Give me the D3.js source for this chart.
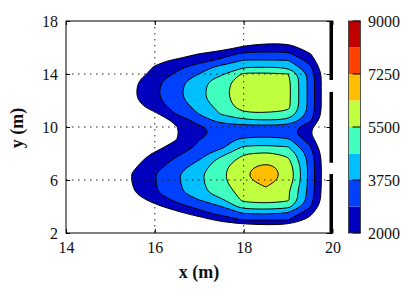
<!DOCTYPE html>
<html>
<head>
<meta charset="utf-8">
<script src="https://cdn.jsdelivr.net/npm/d3@7"></script>
<style>
  body { margin: 0; background: #fff; }
  svg text { font-family: "Liberation Serif", "DejaVu Serif", serif; fill: #111; }
</style>
</head>
<body>
<svg id="chart"></svg>
<script>
const w = 415;
const h = 298;

// sampled field: columns are x (m), rows are y (m)
const gridX = [15, 15.5, 16, 16.5, 17, 17.5, 18, 18.5, 19, 19.5, 20];
const gridY = [2, 2.5, 3, 3.5, 4, 4.5, 5, 5.5, 6, 6.5, 7, 7.5, 8, 8.5, 9, 9.5, 10,
               10.5, 11, 11.5, 12, 12.5, 13, 13.5, 14, 14.5, 15, 15.5, 16, 16.5, 17, 17.5, 18];
const field = [
  [0, 0, 0, 0, 0, 300, 500, 600, 550, 0, 0],
  [0, 0, 0, 200, 700, 1200, 1500, 1700, 1650, 890, 0],
  [0, 0, 300, 900, 1560, 2290, 2950, 2950, 2900, 1660, 0],
  [0, 400, 1000, 1740, 2505, 3220, 3800, 3900, 3700, 2290, 0],
  [300, 1000, 1750, 2530, 3190, 3755, 5050, 5150, 4950, 2945, 300],
  [800, 1515, 2325, 3090, 3760, 4480, 5700, 5850, 5650, 3260, 490],
  [1150, 1880, 2750, 3510, 4250, 5100, 5740, 5970, 5600, 3340, 530],
  [1230, 1980, 2800, 3580, 4380, 5215, 5950, 6400, 5800, 3400, 560],
  [1260, 2040, 2840, 3640, 4460, 5290, 6230, 6650, 6120, 3420, 570],
  [1250, 2030, 2830, 3630, 4440, 5290, 6280, 6700, 6150, 3420, 575],
  [1100, 1850, 2600, 3335, 4190, 5215, 6150, 6620, 6050, 3415, 570],
  [950, 1690, 2365, 3045, 3760, 5000, 5820, 6085, 5670, 3365, 545],
  [800, 1460, 2090, 2710, 3375, 4285, 5430, 5600, 5325, 3240, 475],
  [400, 1000, 1685, 2400, 3020, 3550, 4700, 4800, 4630, 2910, 285],
  [200, 700, 1300, 2020, 2880, 3400, 4015, 4085, 3960, 2510, 40],
  [100, 500, 1450, 1950, 2685, 3115, 3355, 3415, 3310, 2060, 0],
  [100, 500, 1550, 1990, 2750, 3260, 3415, 3420, 3390, 2290, 0],
  [0, 700, 1390, 2250, 3260, 4125, 4500, 4580, 4520, 3025, 335],
  [300, 1000, 1840, 2960, 3790, 4700, 5385, 5405, 5300, 3320, 490],
  [800, 1550, 2390, 3230, 4050, 4950, 5900, 5975, 5705, 3415, 540],
  [950, 1780, 2620, 3450, 4300, 5180, 5950, 6055, 5725, 3420, 540],
  [1010, 1850, 2700, 3540, 4380, 5260, 5975, 6135, 5740, 3420, 540],
  [1000, 1830, 2680, 3510, 4340, 5220, 5965, 6085, 5735, 3420, 540],
  [950, 1760, 2590, 3420, 4220, 5100, 5925, 6005, 5715, 3420, 540],
  [770, 1520, 2270, 3020, 3760, 4480, 5630, 5660, 5510, 3380, 520],
  [700, 1350, 2080, 2650, 3350, 4060, 4615, 4640, 4570, 3025, 335],
  [300, 960, 1750, 2200, 2580, 3115, 3835, 3845, 3805, 2575, 85],
  [0, 200, 880, 1450, 2050, 2450, 3105, 3110, 3080, 2065, 0],
  [0, 0, 300, 800, 1250, 1600, 2150, 2410, 2385, 1520, 0],
  [0, 0, 0, 400, 800, 1200, 1500, 1710, 1690, 940, 0],
  [0, 0, 0, 0, 300, 600, 900, 980, 960, 300, 0],
  [0, 0, 0, 0, 0, 0, 200, 255, 240, 0, 0],
  [0, 0, 0, 0, 0, 0, 0, 0, 0, 0, 0]
];

const levels = [2000, 2875, 3750, 4625, 5500, 6375, 7250, 8125, 9000];
const barTicks = [2000, 3750, 5500, 7250, 9000];
const xTicks = [14, 16, 18, 20];
const yTicks = [2, 6, 10, 14, 18];
const gridLinesX = [16, 18];
const gridLinesY = [6, 10, 14];
// openings in the wall on the right (y, m)
const wallOpenings = [[6.45, 7.3], [12.65, 13.55]];

// one colour per band between two levels
const bandColors = ['#0000bf', '#0040ff', '#00bfff', '#40ffbf', '#bfff40', '#ffbf00', '#ff4000', '#bf0000'];

const svg = d3.select('#chart')
  .attr('width', w)
  .attr('height', h);

const x = d3.scaleLinear().domain([14, 20]).range([66, 332.5]);
const y = d3.scaleLinear().domain([2, 18]).range([233, 21]);

// contour coordinates -> metres (sample i sits at i + 0.5)
const gx = d3.scaleLinear().domain([0.5, gridX.length - 0.5]).range([gridX[0], gridX[gridX.length - 1]]);
const gy = d3.scaleLinear().domain([0.5, gridY.length - 0.5]).range([gridY[0], gridY[gridY.length - 1]]);

const contours = d3.contours()
  .size([gridX.length, gridY.length])
  .thresholds(levels.slice(0, -1))(field.flat());

const smooth = d3.line().curve(d3.curveBasisClosed);

function ringPath(ring) {
  const pts = ring.slice(0, -1).map(p => [x(gx(p[0])), y(gy(p[1]))]);
  return smooth(pts);
}

function contourPath(c) {
  return c.coordinates.map(poly => poly.map(ringPath).join('')).join('');
}

const filled = contours.filter(c => c.coordinates.length);
const plot = svg.append('g');

//filled bands
plot.selectAll('path.band')
  .data(filled)
  .enter()
  .append('path')
    .attr('class', 'band')
    .attr('d', contourPath)
    .attr('fill', d => bandColors[levels.indexOf(d.value)])
    .attr('stroke', 'none');

//contour lines
plot.selectAll('path.iso')
  .data(filled)
  .enter()
  .append('path')
    .attr('class', 'iso')
    .attr('d', contourPath)
    .attr('fill', 'none')
    .attr('stroke', '#000')
    .attr('stroke-width', 1);

//dotted grid
plot.selectAll('line.gx')
  .data(gridLinesX)
  .enter()
  .append('line')
    .attr('x1', d => x(d)).attr('x2', d => x(d))
    .attr('y1', y(18)).attr('y2', y(2))
    .attr('stroke', '#222').attr('stroke-width', 1)
    .attr('stroke-dasharray', '1.5,4.5');

plot.selectAll('line.gy')
  .data(gridLinesY)
  .enter()
  .append('line')
    .attr('y1', d => y(d)).attr('y2', d => y(d))
    .attr('x1', x(14)).attr('x2', x(20))
    .attr('stroke', '#222').attr('stroke-width', 1)
    .attr('stroke-dasharray', '1.5,4.5');

//axes with inner ticks
function styleAxis(g) {
  g.select('.domain').remove();
  g.selectAll('.tick line').attr('stroke', '#000');
  g.selectAll('.tick text')
    .attr('fill', '#111')
    .style('font-family', '"Liberation Serif", serif')
    .style('font-size', '16px');
}

svg.append('g')
  .attr('transform', `translate(0,${y(2)})`)
  .call(d3.axisBottom(x).tickValues(xTicks).tickSize(-4).tickSizeOuter(0).tickPadding(8.5).tickFormat(d3.format('d')))
  .call(styleAxis);

svg.append('g')
  .attr('transform', `translate(0,${y(18)})`)
  .call(d3.axisTop(x).tickValues(xTicks).tickSize(-4).tickSizeOuter(0).tickFormat(''))
  .call(styleAxis);

svg.append('g')
  .attr('transform', `translate(${x(14)},0)`)
  .call(d3.axisLeft(y).tickValues(yTicks).tickSize(-4).tickSizeOuter(0).tickPadding(8).tickFormat(d3.format('d')))
  .call(styleAxis);

svg.append('g')
  .attr('transform', `translate(${x(20)},0)`)
  .call(d3.axisRight(y).tickValues(yTicks).tickSize(-6).tickSizeOuter(0).tickFormat(''))
  .call(styleAxis);

//frame
svg.append('rect')
  .attr('x', x(14)).attr('y', y(18))
  .attr('width', x(20) - x(14)).attr('height', y(2) - y(18))
  .attr('fill', 'none').attr('stroke', '#000').attr('stroke-width', 1);

//wall on the right edge
svg.append('rect')
  .attr('x', x(20) - 3).attr('y', y(18))
  .attr('width', 3.5).attr('height', y(2) - y(18))
  .attr('fill', '#000');

svg.selectAll('rect.opening')
  .data(wallOpenings)
  .enter()
  .append('rect')
    .attr('class', 'opening')
    .attr('x', x(20) - 3.5).attr('y', d => y(d[1]))
    .attr('width', 5).attr('height', d => y(d[0]) - y(d[1]))
    .attr('fill', '#fff');

//axis titles
svg.append('text')
  .attr('x', 199).attr('y', 278)
  .attr('text-anchor', 'middle')
  .style('font-size', '18px').style('font-weight', 'bold')
  .text('x (m)');

svg.append('text')
  .attr('transform', 'translate(23,128) rotate(-90)')
  .attr('text-anchor', 'middle')
  .style('font-size', '18px').style('font-weight', 'bold')
  .text('y (m)');

//colour bar
const cb = d3.scaleLinear().domain([levels[0], levels[levels.length - 1]]).range([233, 21]);
const bar = svg.append('g').attr('transform', 'translate(348.5,0)');

bar.selectAll('rect.seg')
  .data(d3.pairs(levels))
  .enter()
  .append('rect')
    .attr('x', 0).attr('width', 12)
    .attr('y', d => cb(d[1]))
    .attr('height', d => cb(d[0]) - cb(d[1]))
    .attr('fill', (d, i) => bandColors[i]);

bar.append('rect')
  .attr('x', 0).attr('y', cb(9000)).attr('width', 12).attr('height', cb(2000) - cb(9000))
  .attr('fill', 'none').attr('stroke', '#333').attr('stroke-width', 0.8);

bar.selectAll('line.cbt')
  .data(barTicks)
  .enter()
  .append('line')
    .attr('x1', 4).attr('x2', 12)
    .attr('y1', d => cb(d)).attr('y2', d => cb(d))
    .attr('stroke', '#000').attr('stroke-width', 1);

bar.selectAll('text.cbl')
  .data(barTicks)
  .enter()
  .append('text')
    .attr('x', 19.5).attr('y', d => cb(d) + 5.5)
    .style('font-size', '16px')
    .text(d => d);
</script>
</body>
</html>
